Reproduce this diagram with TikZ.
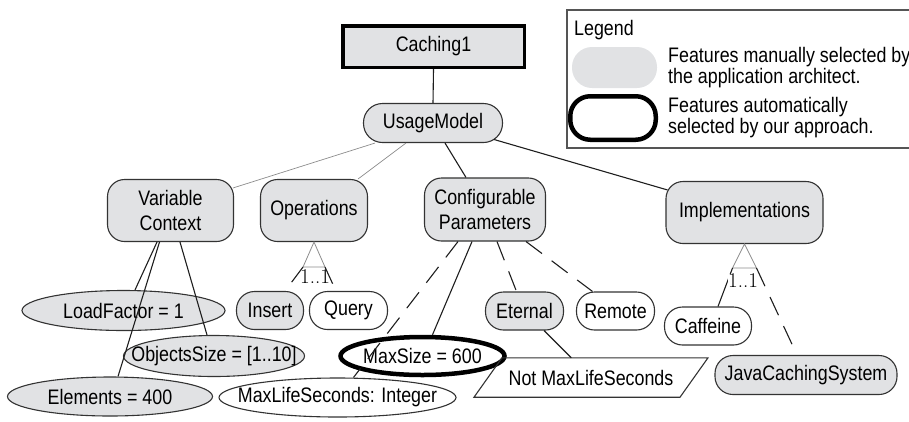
\documentclass[tikz,border=0pt]{standalone}
\usepackage{fontspec}
\newfontfamily\labelfont{Liberation Sans}[FakeStretch=0.85]
\usetikzlibrary{shapes.geometric}

\definecolor{featfill}{HTML}{E1E2E4}
\definecolor{edgeink}{HTML}{333333}
\definecolor{lineink}{HTML}{1E1E1E}
\definecolor{faint}{HTML}{8C8C8C}
\definecolor{frameink}{HTML}{555555}

% ellipse labels may run up to the outline, so they take no width of their own
\newcommand{\attrtext}[1]{\makebox[0pt]{#1}}

\begin{document}
\begin{tikzpicture}[x=1pt, y=-1pt,
  font={\labelfont\fontsize{21}{25}\selectfont},
  feat/.style={draw=edgeink, line width=1.1pt, rounded corners=17pt,
    inner sep=0pt, align=center, fill=white},
  sel/.style={feat, fill=featfill},
  attr/.style={ellipse, draw=edgeink, line width=1.1pt, inner sep=0pt, fill=white},
  selattr/.style={attr, fill=featfill},
  link/.style={draw=lineink, line width=1.1pt},
  opt/.style={link, dash pattern=on 20pt off 12pt},
  weak/.style={draw=faint, line width=0.7pt},
  grp/.style={draw=faint, line width=0.8pt, fill=white},
  card/.style={font={\rmfamily\fontsize{21}{21}\selectfont}, inner sep=0.5pt},
  legtext/.style={anchor=west, align=left, inner sep=0pt,
    font={\labelfont\fontsize{21}{21}\selectfont}}]
\useasboundingbox (0,0) rectangle (909,421);

% legend
\draw[frameink, line width=1.4pt] (909,10) -| (567,148) -- (909,148);
\node[anchor=west, inner sep=0pt] (legtitle) at (574,30) {Legend};
\node[fill=featfill, rounded corners=20pt, minimum width=85pt, minimum height=41pt] (legsel) at (614.5,67.5) {};
\node[draw=black, line width=4.5pt, rounded corners=20pt, minimum width=85.5pt, minimum height=43.5pt] (legauto) at (613,118) {};
\node[legtext] (legtxtA) at (668,68) {Features manually selected by\\the application architect.};
\node[legtext] (legtxtB) at (668,117.5) {Features automatically\\selected by our approach.};

% feature nodes
\node[sel, sharp corners, line width=3.5pt, draw=black, minimum width=181.5pt, minimum height=41.5pt] (caching) at (433.5,46.5) {Caching1};
\node[sel, rounded corners=19pt, minimum width=139pt, minimum height=39pt] (usage) at (433,123) {UsageModel};
\node[sel, minimum width=126pt, minimum height=62pt] (varctx) at (170.5,210.5) {Variable\\Context};
\node[sel, minimum width=107pt, minimum height=62pt] (ops) at (314,210.5) {Operations};
\node[sel, minimum width=121pt, minimum height=63pt] (conf) at (485,209.5) {Configurable\\Parameters};
\node[sel, minimum width=157pt, minimum height=62pt] (impl) at (744.5,212.5) {Implementations};

\node[selattr, minimum width=203pt, minimum height=40pt] (loadf) at (123.5,310.5) {\attrtext{LoadFactor = 1}};
\node[sel, rounded corners=18pt, minimum width=67pt, minimum height=38pt] (insert) at (270,310.5) {Insert};
\node[feat, rounded corners=18pt, minimum width=78pt, minimum height=38pt] (query) at (348.5,310.5) {Query};
\node[selattr, minimum width=181pt, minimum height=41pt] (objs) at (214,356) {\attrtext{ObjectsSize = [1..10]}};
\node[selattr, minimum width=205pt, minimum height=39pt] (elems) at (110,396.5) {\attrtext{Elements = 400}};
\node[attr, minimum width=237pt, minimum height=39pt] (maxlife) at (337.5,397.5) {\attrtext{MaxLifeSeconds: Integer}};
\node[attr, draw=black, line width=4.5pt, minimum width=164pt, minimum height=38pt] (maxsize) at (422.5,356) {\attrtext{MaxSize = 600}};
\node[sel, rounded corners=18pt, minimum width=78pt, minimum height=38pt] (eternal) at (524.5,311) {Eternal};
\node[feat, rounded corners=18pt, minimum width=78pt, minimum height=38pt] (remote) at (615.5,311) {Remote};
\node[feat, rounded corners=18pt, minimum width=87pt, minimum height=38pt] (caffeine) at (708,326) {Caffeine};
\node[sel, rounded corners=18pt, minimum width=182pt, minimum height=39pt] (jcs) at (806,375) {JavaCachingSystem};

% constraint box
\node[inner sep=0pt, minimum width=200pt, minimum height=39pt] (notmax) at (591,377.5) {Not MaxLifeSeconds};
\draw[edgeink, line width=1.1pt] ([xshift=-117pt]notmax.south) -- ([xshift=-89pt]notmax.north)
  -- ([xshift=117pt]notmax.north) -- ([xshift=89pt]notmax.south) -- cycle;

% tree edges
\draw[link] (caching.south) -- (usage.north);
\draw[weak] ([xshift=-58pt]usage.south) -- ([xshift=-1pt,yshift=-9pt]varctx.north east);
\draw[weak] ([xshift=-27pt]usage.south) -- ([xshift=-10pt]ops.north east);
\draw[link] ([xshift=12pt]usage.south) -- ([xshift=-19pt]conf.north);
\draw[link] ([xshift=-9pt,yshift=-16.5pt]usage.east) -- ([xshift=2pt,yshift=-9pt]impl.north west);

\draw[link] ([xshift=-13.5pt]varctx.south) -- ([xshift=11.5pt]loadf.north);
\draw[link] ([xshift=-11pt]varctx.south) -- ([xshift=8pt]elems.north);
\draw[link] ([xshift=9.5pt]varctx.south) -- ([xshift=-7pt]objs.north);

\draw[opt] ([xshift=-27pt]conf.south) -- ([xshift=16pt]maxlife.north);
\draw[link] ([xshift=-13pt]conf.south) -- ([xshift=10pt]maxsize.north);
\draw[opt] ([xshift=12pt]conf.south) -- ([xshift=-8pt]eternal.north);
\draw[opt] ([xshift=41pt]conf.south) -- ([xshift=-23pt]remote.north);
\draw[link] (eternal) -- (notmax);

% alternative group under Operations
\path ([xshift=-11pt,yshift=-25pt]ops.south) coordinate (opsL)
      ([xshift=11pt,yshift=-25pt]ops.south) coordinate (opsR);
\draw[grp] (ops.south) -- (opsL) -- (opsR) -- cycle;
\draw[link, shorten >=11pt] (opsL) -- ([xshift=-19pt]insert.north east);
\draw[link, shorten >=8pt] (opsR) -- ([xshift=27pt]query.north west);
\node[card] (opscard) at (315,277) {1..1};

% alternative group under Implementations
\path ([xshift=-12pt,yshift=-24pt]impl.south) coordinate (implL)
      ([xshift=12pt,yshift=-24pt]impl.south) coordinate (implR);
\draw[grp] (impl.south) -- (implL) -- (implR) -- cycle;
\draw[link] (implL) -- ([xshift=10pt]caffeine.north);
\draw[opt] (implR) -- ([xshift=-9pt]jcs.north);
\node[card, fill=white] (implcard) at (743,281) {1..1};
\end{tikzpicture}
\end{document}
